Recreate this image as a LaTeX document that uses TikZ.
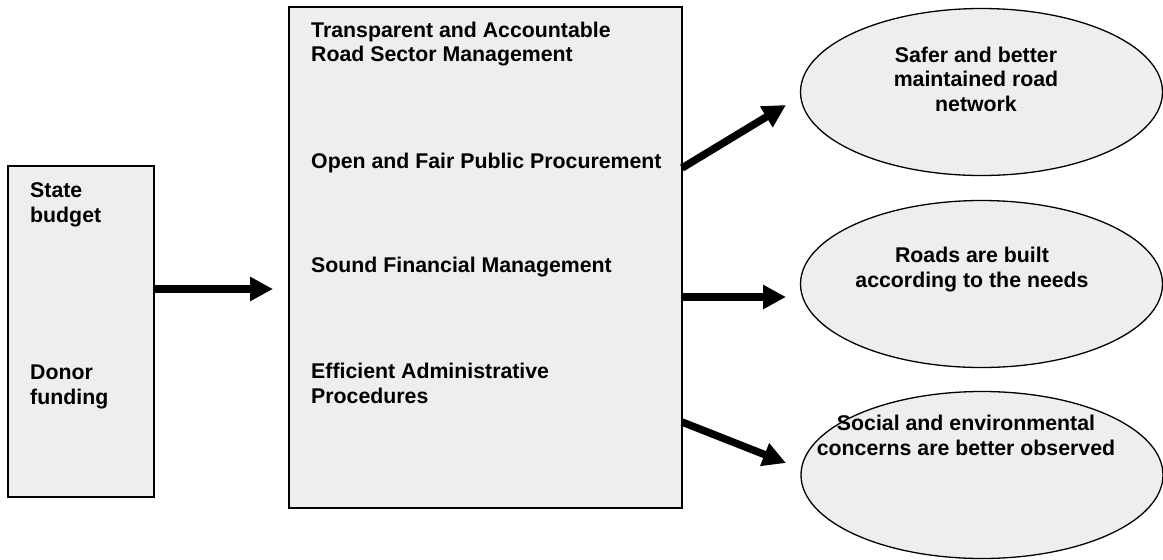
\documentclass[tikz,border=0pt]{standalone}
\usepackage{fontspec}
\setmainfont{Liberation Sans}
\usetikzlibrary{arrows.meta,shapes.geometric}
\definecolor{boxfill}{HTML}{EEEEEE}
\begin{document}
\begin{tikzpicture}[x=1pt,y=-1pt,
  box/.style={draw=black, line width=1.5pt, fill=boxfill, rectangle, inner sep=0pt, outer sep=0pt, anchor=north west},
  oval/.style={draw=black, line width=1.3pt, fill=boxfill, ellipse, inner sep=0pt, outer sep=0pt, minimum width=362pt, minimum height=167pt},
  txt/.style={font=\bfseries\fontsize{21.3}{24.5}\selectfont, inner sep=0pt, anchor=base west},
  ctxt/.style={font=\bfseries\fontsize{21.3}{24.5}\selectfont, inner sep=0pt, anchor=base},
  fat/.style={line width=7.5pt, -{Triangle[length=23pt,width=23pt]}}]
\useasboundingbox (0,0) rectangle (1163,560);

% boxes
\node[box, minimum width=146pt, minimum height=331pt] (lbox) at (8,166) {};
\node[box, minimum width=393pt, minimum height=501pt] (mbox) at (289,7) {};

% ellipses
\node[oval] (o1) at (981.5,92) {};
\node[oval] (o2) at (981.5,284) {};
\node[oval] (o3) at (982,475) {};

% left texts
\node[txt] (l1) at (30,197.5) {State};
\node[txt] (l2) at (30,222) {budget};
\node[txt] (l3) at (30,379) {Donor};
\node[txt] (l4) at (30,404) {funding};

% middle texts
\node[txt] (m1) at (311,37) {Transparent and Accountable};
\node[txt] (m2) at (311,61.5) {Road Sector Management};
\node[txt] (m3) at (311,168) {Open and Fair Public Procurement};
\node[txt] (m4) at (311,272) {Sound Financial Management};
\node[txt] (m5) at (311,378.5) {Efficient Administrative};
\node[txt] (m6) at (311,403) {Procedures};

% ellipse texts
\node[ctxt] (e11) at (976,62) {Safer and better};
\node[ctxt] (e12) at (976,86.5) {maintained road};
\node[ctxt] (e13) at (976,111) {network};
\node[ctxt] (e21) at (972,262) {Roads are built};
\node[ctxt] (e22) at (972,287) {according to the needs};
\node[ctxt] (e31) at (966,430) {Social and environmental};
\node[ctxt] (e32) at (966,455) {concerns are better observed};

% arrows
\coordinate (a1s) at (154,289);
\coordinate (a1t) at (273,289);
\coordinate (a2s) at (682,168);
\coordinate (a2t) at (786,105);
\coordinate (a3s) at (682,297);
\coordinate (a3t) at (786,297);
\coordinate (a4s) at (682,422);
\coordinate (a4t) at (786,463);
\draw[fat] (a1s) -- (a1t);
\draw[fat] (a2s) -- (a2t);
\draw[fat] (a3s) -- (a3t);
\draw[fat] (a4s) -- (a4t);
\end{tikzpicture}
\end{document}
